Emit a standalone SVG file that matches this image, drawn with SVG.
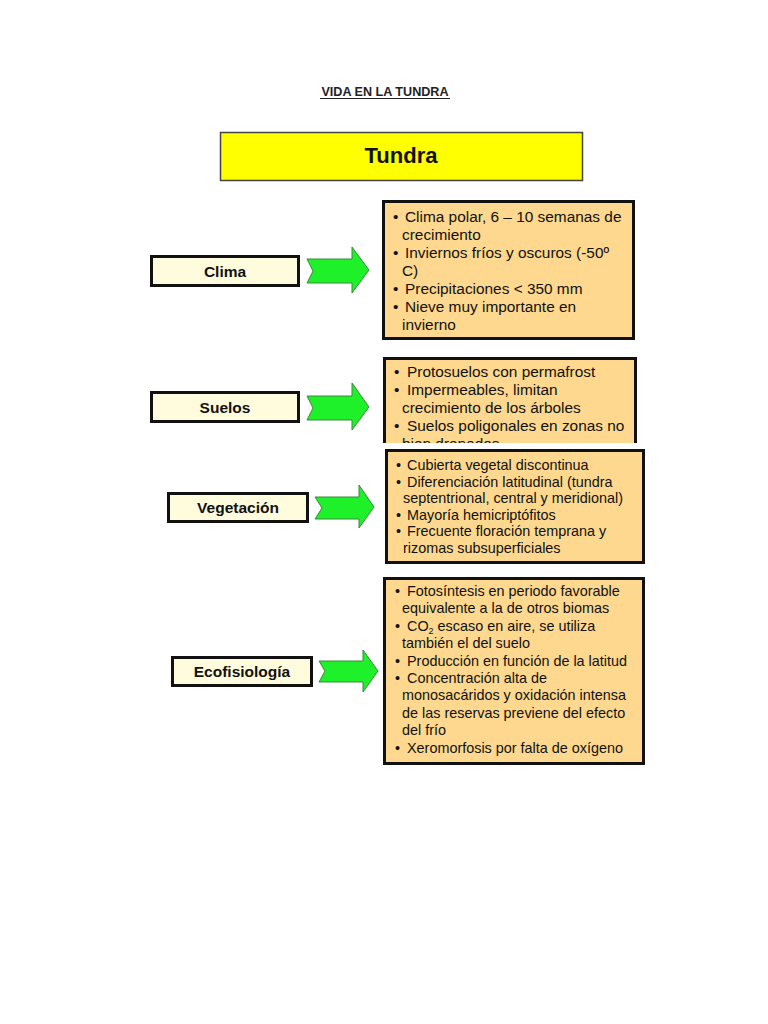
<svg xmlns="http://www.w3.org/2000/svg" width="768" height="1024" viewBox="0 0 768 1024">
<style>
  .lbl { fill: #FFFCDD; stroke: #111; stroke-width: 3; }
  .lbltxt { font-family: "Liberation Sans", Arial, sans-serif; font-weight: bold; font-size: 15.5px; fill: #111; text-anchor: middle; }
  .box { fill: #FDD88E; stroke: #111; stroke-width: 3; }
  .t1 { font-family: "Liberation Sans", Arial, sans-serif; font-size: 15.4px; fill: #111; }
  .t2 { font-family: "Liberation Sans", Arial, sans-serif; font-size: 14.4px; fill: #111; }
  .arrow { fill: #1EF02A; stroke: #3A8A3A; stroke-width: 1; stroke-linejoin: miter; }
</style>
<rect width="768" height="1024" fill="#fff"/>

<g id="title">
  <text x="385" y="96" font-family="Liberation Sans, Arial, sans-serif" font-weight="bold" font-size="12.6" fill="#222" text-anchor="middle">VIDA EN LA TUNDRA</text>
  <line x1="320" y1="98.5" x2="450" y2="98.5" stroke="#222" stroke-width="1"/>
</g>

<g id="tundra">
  <rect x="220.5" y="132.5" width="362" height="48" fill="#FFFF00" stroke="#444" stroke-width="1.5"/>
  <text x="401" y="163" font-family="Liberation Sans, Arial, sans-serif" font-weight="bold" font-size="22" fill="#111" text-anchor="middle">Tundra</text>
</g>

<g id="clima">
  <rect class="lbl" x="151.5" y="256.5" width="147" height="29"/>
  <text class="lbltxt" x="225" y="277" font-size="16">Clima</text>
</g>

<g id="clima-detalle">
  <rect class="box" x="383.5" y="201.5" width="250" height="137"/>
  <text class="t1" x="393" y="222">•<tspan x="405">Clima polar, 6 – 10 semanas de</tspan></text>
  <text class="t1" x="402" y="240">crecimiento</text>
  <text class="t1" x="393" y="258">•<tspan x="405">Inviernos fríos y oscuros (-50º</tspan></text>
  <text class="t1" x="402" y="276">C)</text>
  <text class="t1" x="393" y="294">•<tspan x="405">Precipitaciones &lt; 350 mm</tspan></text>
  <text class="t1" x="393" y="312">•<tspan x="405">Nieve muy importante en</tspan></text>
  <text class="t1" x="402" y="330">invierno</text>
</g>

<g id="suelos">
  <rect class="lbl" x="151.5" y="392.5" width="147" height="29"/>
  <text class="lbltxt" x="225" y="413" font-size="16">Suelos</text>
</g>

<g id="suelos-detalle">
  <rect class="box" x="384.5" y="358.5" width="251" height="100"/>
  <text class="t1" x="394" y="377">•<tspan x="407">Protosuelos con permafrost</tspan></text>
  <text class="t1" x="394" y="395">•<tspan x="407">Impermeables, limitan</tspan></text>
  <text class="t1" x="402" y="413">crecimiento de los árboles</text>
  <text class="t1" x="394" y="431">•<tspan x="407">Suelos poligonales en zonas no</tspan></text>
  <text class="t1" x="402" y="449">bien drenados</text>
  <rect x="370" y="443" width="290" height="30" fill="#fff"/>
</g>

<g id="vegetacion">
  <rect class="lbl" x="168.5" y="493.5" width="139" height="28"/>
  <text class="lbltxt" x="238" y="513">Vegetación</text>
</g>

<g id="vegetacion-detalle">
  <rect class="box" x="386.5" y="450.5" width="257" height="112"/>
  <text class="t2" x="396" y="470">•<tspan x="407">Cubierta vegetal discontinua</tspan></text>
  <text class="t2" x="396" y="486.6">•<tspan x="407">Diferenciación latitudinal (tundra</tspan></text>
  <text class="t2" x="403" y="503.2">septentrional, central y meridional)</text>
  <text class="t2" x="396" y="519.8">•<tspan x="407">Mayoría hemicriptófitos</tspan></text>
  <text class="t2" x="396" y="536.4">•<tspan x="407">Frecuente floración temprana y</tspan></text>
  <text class="t2" x="403" y="553">rizomas subsuperficiales</text>
</g>

<g id="ecofisiologia">
  <rect class="lbl" x="172.5" y="657.5" width="139" height="28"/>
  <text class="lbltxt" x="242" y="677">Ecofisiología</text>
</g>

<g id="ecofisiologia-detalle">
  <rect class="box" x="384.5" y="578.5" width="259" height="185"/>
  <text class="t2" x="395" y="596">•<tspan x="407">Fotosíntesis en periodo favorable</tspan></text>
  <text class="t2" x="402" y="613.4">equivalente a la de otros biomas</text>
  <text class="t2" x="395" y="630.8">•<tspan x="407">CO<tspan font-size="9" dy="3">2</tspan><tspan dy="-3"> escaso en aire, se utiliza</tspan></tspan></text>
  <text class="t2" x="402" y="648.2">también el del suelo</text>
  <text class="t2" x="395" y="665.6">•<tspan x="407">Producción en función de la latitud</tspan></text>
  <text class="t2" x="395" y="683">•<tspan x="407">Concentración alta de</tspan></text>
  <text class="t2" x="402" y="700.4">monosacáridos y oxidación intensa</text>
  <text class="t2" x="402" y="717.8">de las reservas previene del efecto</text>
  <text class="t2" x="402" y="735.2">del frío</text>
  <text class="t2" x="395" y="752.6">•<tspan x="407">Xeromorfosis por falta de oxígeno</tspan></text>
</g>

<g id="connectors">
  <path class="arrow" d="M307,259 L352,259 L352,247 L369,270 L352,293 L352,283 L307,283 L313,271 Z"/>
  <path class="arrow" d="M307,396 L352,396 L352,383 L369,407 L352,430 L352,420 L307,420 L313,408 Z"/>
  <path class="arrow" d="M315,497 L359,497 L359,485 L374,507 L359,528 L359,519 L315,519 L322,508 Z"/>
  <path class="arrow" d="M319,661 L363,661 L363,650 L378,671 L363,692 L363,682 L319,682 L325,671 Z"/>
</g>
</svg>
